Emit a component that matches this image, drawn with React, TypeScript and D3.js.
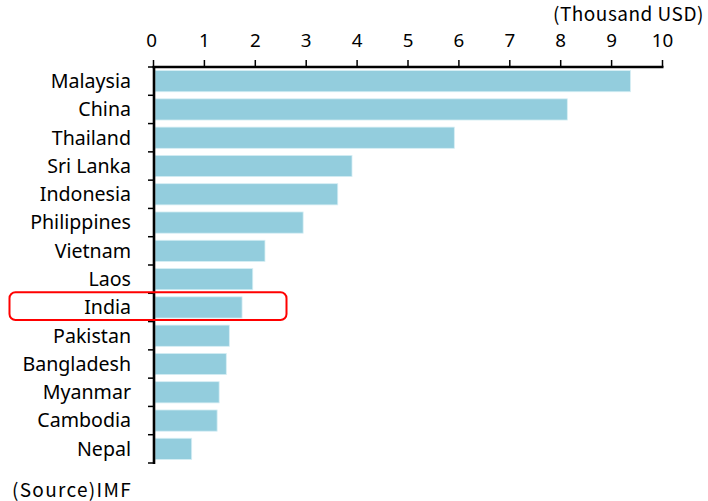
import React from "react";
import * as d3 from "d3";

const categories = [
  "Malaysia", "China", "Thailand", "Sri Lanka", "Indonesia", "Philippines",
  "Vietnam", "Laos", "India", "Pakistan", "Bangladesh", "Myanmar", "Cambodia", "Nepal",
];
const values = [9.37, 8.13, 5.91, 3.9, 3.62, 2.94, 2.19, 1.95, 1.74, 1.49, 1.43, 1.29, 1.25, 0.75];
const xTicks = [0, 1, 2, 3, 4, 5, 6, 7, 8, 9, 10];
const highlight = "India";
const unitLabel = "(Thousand USD)";
const sourceLabel = "(Source)IMF";

const W = 708;
const H = 501;
const FONT = "'Noto Sans', sans-serif";
const JFONT = "'Noto Sans CJK JP', sans-serif";

export default function App() {
  const x = d3.scaleLinear().domain([0, 10]).range([153.5, 662.5]);
  const y = d3
    .scaleBand<string>()
    .domain(categories)
    .range([67, 463])
    .paddingInner(0.25)
    .paddingOuter(0.125);
  const step = y.step();
  const bounds = d3.range(categories.length + 1).map((i) => 67 + i * step);
  const hy = (y(highlight) as number);

  return (
    <svg
      width={W}
      height={H}
      style={{ position: "absolute", left: 0, top: 0, background: "#fff" }}
    >
      {/* bars */}
      {categories.map((c, i) => (
        <rect
          key={c}
          x={x(0) + 1.5}
          y={y(c)}
          width={x(values[i]) - x(0) - 1.5}
          height={y.bandwidth()}
          fill="#93CDDD"
          stroke="#d6eef4"
          strokeWidth={0.8}
        />
      ))}

      {/* top axis */}
      <line x1={x(0) - 1} x2={x(10) + 1} y1={67} y2={67} stroke="#000" strokeWidth={2.6} />
      {xTicks.map((t) => (
        <g key={t}>
          <line x1={x(t)} x2={x(t)} y1={60} y2={67} stroke="#000" strokeWidth={1.5} />
          <text
            x={x(t) - (t === 0 ? 2 : 0)}
            y={47}
            textAnchor="middle"
            fontFamily={FONT}
            fontSize={18.8}
            fill="#000"
          >
            {t}
          </text>
        </g>
      ))}

      {/* left axis */}
      <line x1={154} x2={154} y1={66} y2={464} stroke="#000" strokeWidth={2.6} />
      {bounds.map((b, i) => (
        <line key={i} x1={148} x2={154} y1={b} y2={b} stroke="#000" strokeWidth={1.5} />
      ))}
      {categories.map((c) => (
        <text
          key={c}
          x={131}
          y={(y(c) as number) + y.bandwidth() / 2}
          dy="0.35em"
          textAnchor="end"
          fontFamily={FONT}
          fontSize={19.6}
          fill="#000"
        >
          {c}
        </text>
      ))}

      {/* highlight box */}
      <rect
        x={9.5}
        y={hy - 4.5}
        width={277}
        height={y.bandwidth() + 6.5}
        rx={6}
        fill="none"
        stroke="#FF0000"
        strokeWidth={2}
      />

      {/* unit label */}
      <text x={553} y={21} fontFamily={JFONT} fontSize={19} letterSpacing={0.5} fill="#000">
        {unitLabel}
      </text>

      {/* source */}
      <text x={12} y={497} fontFamily={JFONT} fontSize={19} letterSpacing={1.3} fill="#000">
        {sourceLabel}
      </text>
    </svg>
  );
}
